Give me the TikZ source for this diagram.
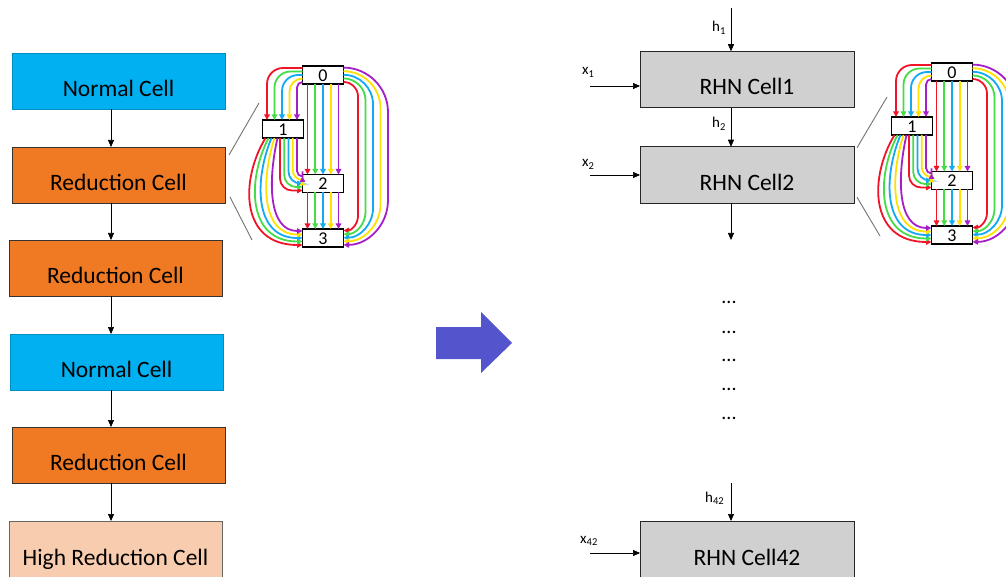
\documentclass[tikz,border=0pt]{standalone}
\usepackage{fontspec}
\setmainfont{Carlito}
\usetikzlibrary{arrows.meta,calc}
\definecolor{ncblue}{RGB}{0,176,240}
\definecolor{rcorange}{RGB}{240,122,36}
\definecolor{hrpeach}{RGB}{248,204,174}
\definecolor{rhngray}{RGB}{208,208,208}
\definecolor{bigarrow}{RGB}{84,84,204}
\definecolor{dR}{RGB}{240,20,40}
\definecolor{dG}{RGB}{70,220,70}
\definecolor{dB}{RGB}{20,170,240}
\definecolor{dY}{RGB}{255,225,0}
\definecolor{dP}{RGB}{165,30,200}
\tikzset{
  cellbox/.style={draw, minimum width=213pt, minimum height=56pt, inner sep=0pt, outer sep=0pt,
    text height=31pt, text depth=0pt, font=\fontsize{23.5}{28}\selectfont},
  normalc/.style={cellbox, fill=ncblue, draw=ncblue!80!black, line width=0.6pt},
  redc/.style={cellbox, fill=rcorange, draw=black!80, line width=0.8pt},
  highc/.style={cellbox, fill=hrpeach, draw=black!60, line width=0.8pt, minimum height=57pt},
  rhnc/.style={cellbox, minimum width=214pt, minimum height=56.5pt, fill=rhngray, draw=black!85, line width=1pt},
  flowarrow/.style={line width=0.7pt, -{Triangle[length=7pt,width=6pt]}},
  dagbox/.style={draw, line width=1.3pt, fill=white, minimum width=41pt, minimum height=18pt,
    inner sep=0pt, outer sep=0pt, text height=13pt, text depth=0pt, font=\fontsize{18}{18}\selectfont},
  dagedge/.style={line width=1.8pt, -{Triangle[length=5.5pt,width=5.5pt]}},
  smalllab/.style={inner sep=0pt, anchor=base west, font=\fontsize{15}{15}\selectfont},
  dotlab/.style={inner sep=0pt, anchor=base, font=\fontsize{20}{20}\selectfont},
  guideline/.style={draw=black!55, line width=0.9pt}
}
\newcommand\celldag[3]{%
  \node[dagbox] (#1n0) at ({323+#2},{75+#3}) {0};
  \node[dagbox] (#1n1) at ({283+#2},{129+#3}) {1};
  \node[dagbox] (#1n2) at ({323+#2},{183.5+#3}) {2};
  \node[dagbox] (#1n3) at ({323+#2},{238+#3}) {3};
  % 0->2, 2->3
  \foreach \col [count=\ii from 0] in {dR,dG,dB,dY,dP}{
    \pgfmathsetmacro\qx{5+7.75*\ii}
    \draw[dagedge,\col] ($(#1n0.south west)+(\qx,0)$) -- ($(#1n2.north west)+(\qx,0)$);
    \draw[dagedge,\col] ($(#1n2.south west)+(\qx,0)$) -- ($(#1n3.north west)+(\qx,0)$);
  }
  % 0->1
  \foreach \col [count=\ii from 0] in {dR,dG,dB,dY,dP}{
    \pgfmathsetmacro\qy{2+3.5*\ii}
    \pgfmathsetmacro\qe{4.5+7.5*\ii}
    \pgfmathsetmacro\qd{40-\qe}
    \pgfmathsetmacro\qr{min(\qd,16)}
    \pgfmathsetmacro\qh{\qd-\qr}
    \pgfmathsetmacro\qc{0.55*\qr}
    \draw[dagedge,\col] ($(#1n0.north west)+(0,\qy)$) -- ++(-\qh,0)
      .. controls +(-\qc,0) and +(0,-\qc) .. ++(-\qr,\qr) -- ($(#1n1.north west)+(\qe,0)$);
  }
  % 0->3
  \foreach \col [count=\ii from 0] in {dR,dG,dB,dY,dP}{
    \pgfmathsetmacro\qy{16-3.6*\ii}
    \pgfmathsetmacro\qe{1.5+3.6*\ii}
    \pgfmathsetmacro\qr{14.5+7.5*\ii}
    \pgfmathsetmacro\qc{0.55*\qr}
    \pgfmathsetmacro\qv{163+\qe-\qy-2*\qr}
    \draw[dagedge,\col] ($(#1n0.north east)+(0,\qy)$) .. controls +(\qc,0) and +(0,-\qc) .. ++(\qr,\qr)
      -- ++(0,\qv) .. controls +(0,\qc) and +(\qc,0) .. ($(#1n3.north east)+(0,\qe)$);
  }
  % 1->2
  \foreach \col [count=\ii from 0] in {dR,dG,dB,dY,dP}{
    \pgfmathsetmacro\qx{17.5+4.25*\ii}
    \pgfmathsetmacro\qe{16-3.5*\ii}
    \pgfmathsetmacro\qd{40-\qx}
    \pgfmathsetmacro\qr{min(\qd,12)}
    \pgfmathsetmacro\qc{0.55*\qr}
    \pgfmathsetmacro\qv{36.5+\qe-\qr}
    \draw[dagedge,\col] ($(#1n1.south west)+(\qx,0)$) -- ++(0,\qv)
      .. controls +(0,\qc) and +(-\qc,0) .. ++(\qr,\qr) -- ($(#1n2.north west)+(0,\qe)$);
  }
  % 1->3
  \foreach \col [count=\ii from 0] in {dR,dG,dB,dY,dP}{
    \pgfmathsetmacro\qx{3+3*\ii}
    \pgfmathsetmacro\qe{16-3.5*\ii}
    \pgfmathsetmacro\qa{-25.5+4*\ii}
    \pgfmathsetmacro\qb{-62.5+7*\ii}
    \draw[dagedge,\col] ($(#1n1.south west)+(\qx,0)$) .. controls +(\qa,42) and +(\qb,0) .. ($(#1n3.north west)+(0,\qe)$);
  }
}
\begin{document}
\begin{tikzpicture}[x=1pt,y=-1pt]
\useasboundingbox (0,0) rectangle (1006,577);
\fill[white] (0,0) rectangle (1006,577);
\clip (0,0) rectangle (1006,577);

% left column
\node[normalc] (n1) at (118.5,81) {Normal Cell};
\node[redc] (r1) at (118.5,175) {Reduction Cell};
\node[redc] (r2) at (115.5,268) {Reduction Cell};
\node[normalc] (n2) at (116.5,362) {Normal Cell};
\node[redc] (r3) at (118.5,455) {Reduction Cell};
\node[highc] (hr) at (115.5,549.5) {High Reduction Cell};
\coordinate (lax) at (111,0);
\draw[flowarrow] (n1.south -| lax) -- (r1.north -| lax);
\draw[flowarrow] (r1.south -| lax) -- (r2.north -| lax);
\draw[flowarrow] (r2.south -| lax) -- (n2.north -| lax);
\draw[flowarrow] (n2.south -| lax) -- (r3.north -| lax);
\draw[flowarrow] (r3.south -| lax) -- (hr.north -| lax);

% left DAG
\celldag{a}{0}{0}
\coordinate (ga1) at (259,103);
\coordinate (ga2) at (252,240);
\draw[guideline] ($(r1.north east)+(4,8)$) -- (ga1);
\draw[guideline] ($(r1.south east)+(5,-6)$) -- (ga2);

% big arrow
\fill[bigarrow] (436,327) -- (481,327) -- (481,312) -- (512,343) -- (481,373) -- (481,359) -- (436,359) -- cycle;

% right column
\node[rhnc] (c1) at (747,79.5) {RHN Cell1};
\node[rhnc] (c2) at (747,175) {RHN Cell2};
\node[rhnc, minimum height=57pt] (c42) at (747,549.5) {RHN Cell42};
\coordinate (rax) at (731,0);
\coordinate (h1s) at (731,8);
\coordinate (c2e) at (731,240);
\coordinate (h42s) at (731,483);
\coordinate (x1s) at (590,86);
\coordinate (x2s) at (590,175);
\coordinate (x42s) at (590,553);
\draw[flowarrow] (h1s) -- (c1.north -| h1s);
\draw[flowarrow] (c1.south -| rax) -- (c2.north -| rax);
\draw[flowarrow] (c2.south -| c2e) -- (c2e);
\draw[flowarrow] (h42s) -- (c42.north -| h42s);
\draw[flowarrow] (x1s) -- (c1.west |- x1s);
\draw[flowarrow] (x2s) -- (c2.west |- x2s);
\draw[flowarrow] (x42s) -- (c42.west |- x42s);
\node[smalllab] (lh1) at (712,32) {h\textsubscript{1}};
\node[smalllab] (lh2) at (712,128) {h\textsubscript{2}};
\node[smalllab] (lx1) at (582,75) {x\textsubscript{1}};
\node[smalllab] (lx2) at (582,167) {x\textsubscript{2}};
\node[smalllab] (lh42) at (705,502) {h\textsubscript{42}};
\node[smalllab] (lx42) at (580,543) {x\textsubscript{42}};
\node[dotlab] (d1) at (729,303.5) {...};
\node[dotlab] (d2) at (729,333) {...};
\node[dotlab] (d3) at (729,361.5) {...};
\node[dotlab] (d4) at (729,390.5) {...};
\node[dotlab] (d5) at (729,419.5) {...};

% right DAG
\celldag{b}{629}{-3}
\coordinate (gb1) at (887,97);
\coordinate (gb2) at (880,236);
\draw[guideline] ($(c2.north east)+(3,1)$) -- (gb1);
\draw[guideline] ($(c2.south east)+(3,-6)$) -- (gb2);
\end{tikzpicture}
\end{document}
